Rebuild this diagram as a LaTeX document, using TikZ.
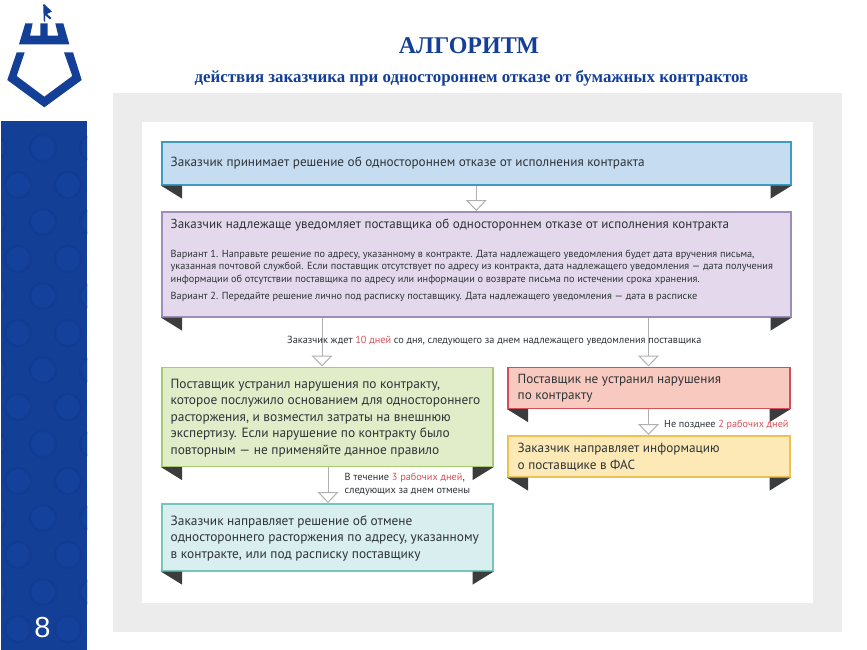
\documentclass[tikz,border=0pt]{standalone}
\usepackage{fontspec}
\setmainfont{PT Sans}
\newfontfamily\titlefont{Liberation Serif}
\newfontfamily\numfont{Liberation Sans}
\usetikzlibrary{arrows.meta}
\definecolor{navy}{HTML}{133F97}
\definecolor{navydark}{HTML}{123C92}
\definecolor{navylight}{HTML}{14419B}
\definecolor{ink}{HTML}{2E3338}
\definecolor{redtxt}{HTML}{D8505A}
\definecolor{panel}{HTML}{ECECEC}
\definecolor{fold}{HTML}{3A3C3E}
\definecolor{flow}{HTML}{B0B0B0}
\tikzset{
  x=1pt,y=-1pt,
  box/.style={draw=#1,line width=1.6pt,inner sep=0pt,anchor=north west,minimum height=10pt},
  boxtext/.style={anchor=west,inner sep=0pt,align=left,text=ink,font=\fontsize{#1}{16.4}\selectfont},
  smalltext/.style={anchor=west,inner sep=0pt,align=left,text=ink,font=\fontsize{10.27}{12.6}\selectfont},
  flowline/.style={draw=flow,line width=1pt,-{Triangle[open,length=11pt,width=21pt,fill=white]}},
}
\newcommand{\folds}[1]{%
  \fill[fold] (#1.south west) -- ++(21,0) -- ++(0,13) -- cycle;
  \fill[fold] (#1.south east) -- ++(-21,0) -- ++(0,13) -- cycle;
}
\begin{document}
\begin{tikzpicture}
\useasboundingbox (0,0) rectangle (867,650);
\fill[white] (0,0) rectangle (867,650);
% sidebar
\fill[navy] (1,121) rectangle (87,650);
\begin{scope}
\clip (1,121) rectangle (87,650);
\foreach \yy in {0,...,14}{\foreach \xx in {-1,0,1,2}{
  \pgfmathsetmacro{\cx}{\xx*50+43+mod(\yy,2)*25}
  \pgfmathsetmacro{\cy}{\yy*37+148}
  \fill[navylight,draw=navydark,line width=2pt] (\cx,\cy) circle (13);
}}
\end{scope}
\node[text=white,font=\numfont\fontsize{29}{29}\selectfont,inner sep=0pt] (page) at (42.5,628) {8};
% panels
\fill[panel] (113,93) rectangle (842,632);
\fill[white] (142,122) rectangle (813,603);
% logo
\fill[navy] (19,44.3) -- (25.3,23.3) -- (32.7,23.3) -- (30,35.7) -- (40.3,35.7) -- (40.3,23.3) -- (47.7,23.3) -- (47.7,35.7) -- (58.3,35.7) -- (55.3,23.3) -- (63.3,23.3) -- (69.3,44.3) -- cycle;
\fill[navy] (16.7,52.3) -- (24.7,52.3) -- (16.7,76) -- (44.3,96.7) -- (72.3,76) -- (64,52.3) -- (73,52.3) -- (81.7,80) -- (44.3,107.3) -- (7.3,80) -- cycle;
\fill[navy] (43.2,4.5) -- (45,4.5) -- (45,5) -- (52,11.5) -- (47,14) -- (51.5,18) -- (50,19.5) -- (45,15) -- (45,21.7) -- (43.8,21.7) -- cycle;
% titles
\node[text=navy,font=\titlefont\bfseries\fontsize{24}{26}\selectfont,inner sep=0pt] (t1) at (469,45.5) {АЛГОРИТМ};
\node[text=navy,font=\titlefont\bfseries\fontsize{16.9}{20}\selectfont,inner sep=0pt] (t2) at (471.5,78) {действия заказчика при одностороннем отказе от бумажных контрактов};
% boxes
\definecolor{b1f}{HTML}{C5DCF1}\definecolor{b1d}{HTML}{3F9AC2}
\definecolor{b2f}{HTML}{E4D9EC}\definecolor{b2d}{HTML}{9D8DB8}
\definecolor{b3f}{HTML}{E1ECC9}\definecolor{b3d}{HTML}{A7CB72}
\definecolor{b4f}{HTML}{D9EEEE}\definecolor{b4d}{HTML}{74C5BD}
\definecolor{b5f}{HTML}{F8C9BE}\definecolor{b5d}{HTML}{D2505A}
\definecolor{b6f}{HTML}{FCE9B6}\definecolor{b6d}{HTML}{EFC152}
\node[box=b1d,fill=b1f,minimum width=629pt,minimum height=43pt] (b1) at (161,141) {};
\node[box=b2d,fill=b2f,minimum width=629pt,minimum height=105pt] (b2) at (161,211) {};
\node[box=b3d,fill=b3f,minimum width=331pt,minimum height=99pt] (b3) at (161,366.5) {};
\node[box=b4d,fill=b4f,minimum width=331pt,minimum height=67pt] (b4) at (161,503) {};
\node[box=b5d,fill=b5f,minimum width=282pt,minimum height=41pt] (b5) at (507,366.5) {};
\node[box=b6d,fill=b6f,minimum width=282pt,minimum height=41pt] (b6) at (507,435) {};
\foreach \n in {b1,b2,b3,b4,b5,b6}{\folds{\n}}
% connectors
\coordinate (c2) at (322,0);
\coordinate (c3) at (648.5,0);
\coordinate (c4) at (328,0);
\draw[flowline] (b1.south) -- (b2.north);
\draw[flowline] (b2.south -| c2) -- (b3.north -| c2);
\draw[flowline] (b2.south -| c3) -- (b5.north -| c3);
\draw[flowline] (b3.south -| c4) -- (b4.north -| c4);
\draw[flowline] (b5.south -| c3) -- (b6.north -| c3);
% texts
\node[boxtext=13.2] (x1) at (170.5,163) {Заказчик принимает решение об одностороннем отказе от исполнения контракта};
\node[boxtext=13.05] (x2) at (170.5,225) {Заказчик надлежаще уведомляет поставщика об одностороннем отказе от исполнения контракта};
\node[smalltext] (x2a) at (170.5,267) {Вариант 1. Направьте решение по адресу, указанному в контракте. Дата надлежащего уведомления будет дата вручения письма,\\указанная почтовой службой. Если поставщик отсутствует по адресу из контракта, дата надлежащего уведомления — дата получения\\информации об отсутствии поставщика по адресу или информации о возврате письма по истечении срока хранения.};
\node[smalltext] (x2b) at (170.5,297) {Вариант 2. Передайте решение лично под расписку поставщику. Дата надлежащего уведомления — дата в расписке};
\node[boxtext=13.35] (x3) at (170.5,418) {Поставщик устранил нарушения по контракту,\\которое послужило основанием для одностороннего\\расторжения, и возместил затраты на внешнюю\\экспертизу. Если нарушение по контракту было\\повторным — не применяйте данное правило};
\node[boxtext=13.35] (x4) at (170.5,538.5) {Заказчик направляет решение об отмене\\одностороннего расторжения по адресу, указанному\\в контракте, или под расписку поставщику};
\node[boxtext=13.2] (x5) at (517.5,388.5) {Поставщик не устранил нарушения\\по контракту};
\node[boxtext=13.2] (x6) at (517.5,457) {Заказчик направляет информацию\\о поставщике в ФАС};
\node[smalltext] (l1) at (287,341) {Заказчик ждет {\color{redtxt}10 дней} со дня, следующего за днем надлежащего уведомления поставщика};
\node[smalltext] (l2) at (344.5,484.5) {В течение {\color{redtxt}3 рабочих дней},\\следующих за днем отмены};
\node[smalltext,font=\fontsize{10.2}{12}\selectfont] (l3) at (664,425) {Не позднее {\color{redtxt}2 рабочих дней}};
\end{tikzpicture}
\end{document}
